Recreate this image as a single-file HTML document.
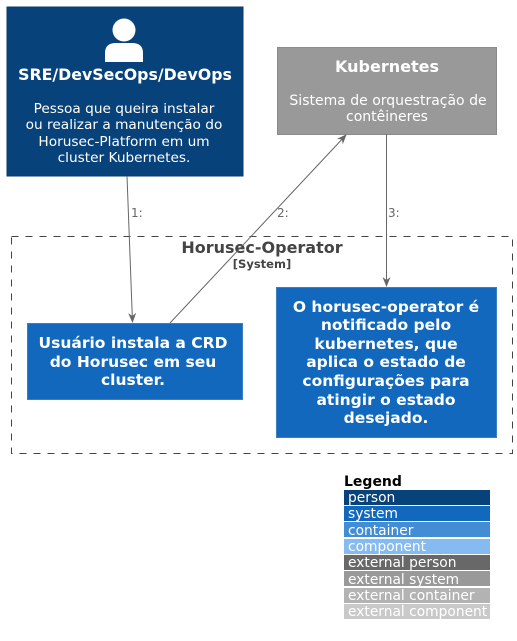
<!DOCTYPE html>
<html><head><meta charset="utf-8"><style>
html,body{margin:0;padding:0;background:#fff;}
svg{display:block;font-family:"DejaVu Sans","Liberation Sans",sans-serif;}
</style></head><body>
<svg width="517" height="641" viewBox="0 0 517 641" xmlns="http://www.w3.org/2000/svg">
<defs><marker id="a" markerWidth="10" markerHeight="10" refX="9" refY="5" orient="auto" markerUnits="userSpaceOnUse"><path d="M0,1 L10,5 L0,9 L3,5 Z" fill="#666"/></marker></defs>
<rect x="11.5" y="236.5" width="501" height="217" fill="none" stroke="#444" stroke-dasharray="7,7"/>
<text x="262" y="253" text-anchor="middle" font-size="16" font-weight="bold" fill="#444">Horusec-Operator</text>
<text x="262" y="268" text-anchor="middle" font-size="11.5" font-weight="bold" fill="#444">[System]</text>
<rect x="7" y="7" width="236" height="169" fill="#08427B" stroke="#073B6F"/>
<circle cx="124" cy="30" r="11.5" fill="#fff"/>
<path d="M105,62 L105,53 Q105,43 116,43 L132,43 Q143,43 143,53 L143,62 Z" fill="#fff"/>
<text x="125" y="80" text-anchor="middle" font-size="15.8" font-weight="bold" fill="#fff">SRE/DevSecOps/DevOps</text>
<g font-size="13.7" fill="#fff" text-anchor="middle">
<text x="124" y="113">Pessoa que queira instalar</text>
<text x="124" y="129">ou realizar a manutenção do</text>
<text x="124" y="146">Horusec-Platform em um</text>
<text x="124" y="162">cluster Kubernetes.</text>
</g>
<rect x="277.5" y="47.5" width="219" height="87" fill="#999" stroke="#8A8A8A"/>
<text x="387" y="72" text-anchor="middle" font-size="16" font-weight="bold" fill="#fff">Kubernetes</text>
<text x="388" y="105" text-anchor="middle" font-size="14" fill="#fff">Sistema de orquestração de</text>
<text x="387" y="121" text-anchor="middle" font-size="14" fill="#fff">contêineres</text>
<rect x="27.5" y="323.5" width="215" height="76" fill="#1168BD" stroke="#3C7FC0"/>
<g font-size="15.5" font-weight="bold" fill="#fff" text-anchor="middle">
<text x="133" y="348">Usuário instala a CRD</text>
<text x="133" y="367">do Horusec em seu</text>
<text x="133" y="385">cluster.</text>
</g>
<rect x="276.5" y="287.5" width="220" height="150" fill="#1168BD" stroke="#3C7FC0"/>
<g font-size="15.5" font-weight="bold" fill="#fff" text-anchor="middle">
<text x="386" y="312">O horusec-operator é</text>
<text x="386" y="330">notificado pelo</text>
<text x="386" y="349">kubernetes, que</text>
<text x="386" y="367">aplica o estado de</text>
<text x="386" y="386">configurações para</text>
<text x="386" y="405">atingir o estado</text>
<text x="386" y="423">desejado.</text>
</g>
<g stroke="#666" stroke-width="1" fill="none">
<line x1="127" y1="176" x2="132.5" y2="322" marker-end="url(#a)"/>
<line x1="170" y1="323" x2="346" y2="135" marker-end="url(#a)"/>
<line x1="386.5" y1="134" x2="386.5" y2="286" marker-end="url(#a)"/>
</g>
<g font-size="12" fill="#666">
<text x="131" y="217">1:</text>
<text x="277" y="217">2:</text>
<text x="388" y="217">3:</text>
</g>
<text x="344" y="486" font-size="14" font-weight="bold" fill="#000">Legend</text>
<g font-size="13.8">
<rect x="344" y="490" width="146" height="15" fill="#08427B"/><text x="348" y="502" fill="#fff">person</text>
<rect x="344" y="506" width="146" height="15" fill="#1168BD"/><text x="348" y="518" fill="#fff">system</text>
<rect x="344" y="522" width="146" height="15" fill="#438DD5"/><text x="348" y="535" fill="#fff">container</text>
<rect x="344" y="539" width="146" height="15" fill="#85BBF0"/><text x="348" y="551" fill="#fff">component</text>
<rect x="344" y="555" width="146" height="15" fill="#686868"/><text x="348" y="567" fill="#fff">external person</text>
<rect x="344" y="571" width="146" height="15" fill="#999999"/><text x="348" y="584" fill="#fff">external system</text>
<rect x="344" y="588" width="146" height="15" fill="#B3B3B3"/><text x="348" y="600" fill="#fff">external container</text>
<rect x="344" y="604" width="146" height="15" fill="#C9C9C9"/><text x="348" y="616" fill="#fff">external component</text>
</g>
</svg>
</body></html>
